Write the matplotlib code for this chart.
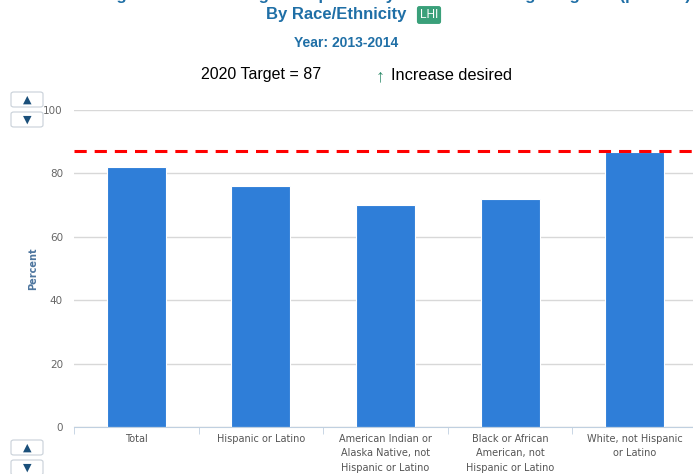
import matplotlib.pyplot as plt
from matplotlib.patches import FancyBboxPatch

# Data
categories = [
    "Total",
    "Hispanic or Latino",
    "American Indian or\nAlaska Native, not\nHispanic or Latino",
    "Black or African\nAmerican, not\nHispanic or Latino",
    "White, not Hispanic\nor Latino",
]
values = [82, 76, 70, 72, 86.6]
target = 87
y_ticks = [0, 20, 40, 60, 80, 100]

title_top = "Students who graduate with a regular diploma 4 years after starting 9th grade (percent)"
title_sub = "By Race/Ethnicity"
year_text = "Year: 2013-2014"

plt.rcParams["font.family"] = ["DejaVu Sans"]

fig = plt.figure(figsize=(6.93, 4.74), dpi=100)
ax = fig.add_axes([74 / 693, 1 - 427 / 474, (697 - 74) / 693, (427 - 110) / 474])

x = list(range(len(categories)))
ax.bar(x, values, width=0.475, color="#2f7ed8", edgecolor="white", linewidth=0.8, zorder=2)
ax.axhline(target, color="#ff0000", linestyle=(0, (4, 2.6)), linewidth=2.2, zorder=3)

ax.set_xlim(-0.5, len(categories) - 0.5)
ax.set_ylim(0, 100)
ax.set_yticks(y_ticks)
ax.yaxis.grid(True, color="#d8d8d8", linewidth=1, zorder=0)
ax.set_axisbelow(True)
for s in ["top", "right", "left"]:
    ax.spines[s].set_visible(False)
ax.spines["bottom"].set_color("#c0d0e0")

ax.tick_params(axis="y", length=0, pad=8, labelsize=7.5, labelcolor="#666666")
ax.set_xticks(x)
ax.set_xticklabels(categories, fontsize=7, color="#555555", linespacing=1.55, va="top")
ax.tick_params(axis="x", length=0, pad=5)
# boundary tick marks
ax.set_xticks([i - 0.5 for i in range(len(categories) + 1)], minor=True)
ax.tick_params(axis="x", which="minor", length=5, color="#c0d0e0")

ax.set_ylabel("Percent", fontsize=7, fontweight="bold", color="#4d759e", labelpad=4)

# Titles (first line is cut off at the top edge, as in the source page)
fig.text(0.5, 1 + 0.5 / 474, title_top, ha="center", va="baseline", fontsize=12,
         color="#1f6fa6", family="Liberation Sans", fontweight="bold")
fig.text(336 / 693, 1 - 15 / 474, title_sub, ha="center", va="center", fontsize=12,
         color="#1f6fa6", family="Liberation Sans", fontweight="bold")
fig.text(429 / 693, 1 - 15 / 474, "LHI", ha="center", va="center", fontsize=8.5, color="white",
         family="Liberation Sans",
         bbox=dict(boxstyle="round,pad=0.25,rounding_size=0.2", fc="#3aa07a", ec="none"))
fig.text(0.5, 1 - 43 / 474, year_text, ha="center", va="center", fontsize=10,
         color="#1f6fa6", family="Liberation Sans", fontweight="bold")
fig.text(261 / 693, 1 - 75 / 474, "2020 Target = %d" % target, ha="center", va="center",
         fontsize=11.5, color="black", family="Liberation Sans")
fig.text(380 / 693, 1 - 77 / 474, "\u2191", ha="center", va="center", fontsize=13,
         color="#2e8b6a", family="Liberation Sans")
fig.text(391 / 693, 1 - 75 / 474, "Increase desired", ha="left", va="center",
         fontsize=11.8, color="black", family="Liberation Sans")


# scroll buttons
def button(x0, y0, w, h, glyph):
    fig.patches.append(FancyBboxPatch((x0 / 693, 1 - (y0 + h) / 474), w / 693, h / 474,
                                      boxstyle="round,pad=0,rounding_size=0.004",
                                      transform=fig.transFigure, fc="white", ec="#c8d0d8", lw=0.8))
    fig.text((x0 + w / 2) / 693, 1 - (y0 + h / 2) / 474, glyph, ha="center", va="center",
             fontsize=8, color="#1a4f7a")


button(11, 92, 32, 15, "\u25b2")
button(11, 112, 32, 15, "\u25bc")
button(11, 440, 32, 15, "\u25b2")
button(11, 460, 32, 15, "\u25bc")

fig.savefig("out.png", dpi=100)
